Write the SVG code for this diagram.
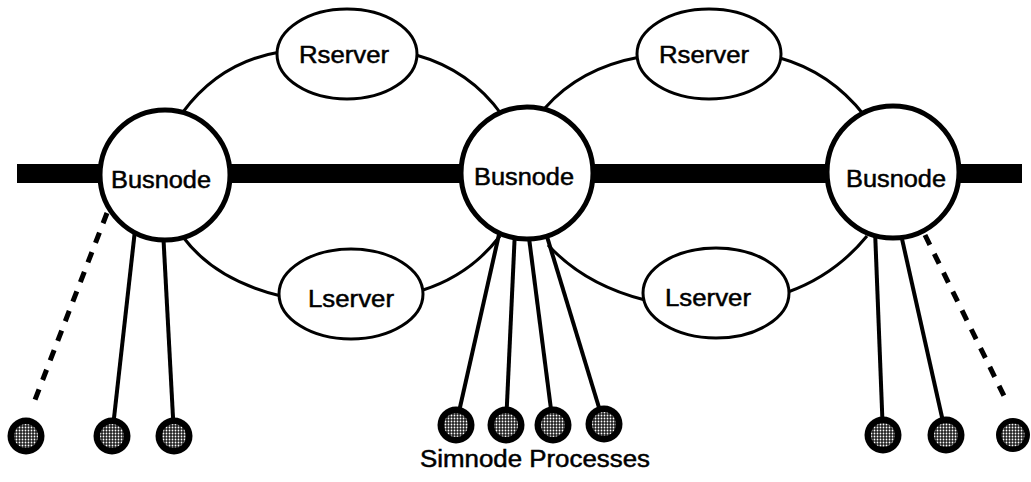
<svg xmlns="http://www.w3.org/2000/svg" width="1031" height="482" viewBox="0 0 1031 482">
<style>
.bus{fill:#fff;stroke:#000;stroke-width:5}
.srv{fill:#fff;stroke:#000;stroke-width:3}
.lbl{font-family:"Liberation Sans",Arial,sans-serif;font-size:23px;fill:#000;stroke:#000;stroke-width:0.5;text-anchor:middle}
.arc{fill:none;stroke:#000;stroke-width:3}
.sl{fill:none;stroke:#000;stroke-width:4}
.dl{fill:none;stroke:#000;stroke-width:5;stroke-dasharray:11 10}
.sim-o{fill:#000}
.sim-i{fill:url(#dots)}
</style>
<defs>
<pattern id="dots" patternUnits="userSpaceOnUse" width="3" height="3">
<rect width="3" height="3" fill="#222"/>
<circle cx="1.5" cy="1.5" r="0.9" fill="#fff"/>
</pattern>
</defs>
<rect id="bus-bar" x="17" y="164" width="1005" height="19" fill="#000"/>
<g id="connectors">
<path class="arc" d="M183,112 Q220,62 280,52"/>
<path class="arc" d="M416,55 Q470,70 502,115"/>
<path class="arc" d="M183,237 Q215,280 281,296"/>
<path class="arc" d="M423,290 Q470,275 500,236"/>
<path class="arc" d="M545,108 Q580,68 640,57"/>
<path class="arc" d="M780,58 Q830,72 864,115"/>
<path class="arc" d="M548,245 Q585,285 645,300"/>
<path class="arc" d="M788,292 Q835,275 867,236"/>
<path class="dl" d="M107,213 L33,405"/>
<path class="sl" d="M135,230 L112,436"/>
<path class="sl" d="M163,230 L174,436"/>
<path class="sl" d="M500,230 L456,425"/>
<path class="sl" d="M515,230 L506,425"/>
<path class="sl" d="M528,230 L553,425"/>
<path class="sl" d="M545,230 L604,424"/>
<path class="sl" d="M875,230 L883,435"/>
<path class="sl" d="M900,230 L946,435"/>
<path class="dl" d="M925,235 L1007,402"/>
</g>
<g id="busnode1"><circle class="bus" cx="165" cy="175" r="65"/><text class="lbl" x="161" y="188" textLength="100" lengthAdjust="spacingAndGlyphs">Busnode</text></g>
<g id="busnode2"><circle class="bus" cx="527" cy="173" r="66"/><text class="lbl" x="524" y="185" textLength="100" lengthAdjust="spacingAndGlyphs">Busnode</text></g>
<g id="busnode3"><circle class="bus" cx="893" cy="172" r="66"/><text class="lbl" x="896" y="187" textLength="100" lengthAdjust="spacingAndGlyphs">Busnode</text></g>
<g id="rserver1"><ellipse class="srv" cx="347" cy="54" rx="70" ry="45"/><text class="lbl" x="344" y="63" textLength="90" lengthAdjust="spacingAndGlyphs">Rserver</text></g>
<g id="rserver2"><ellipse class="srv" cx="709" cy="54" rx="72" ry="45"/><text class="lbl" x="704" y="63" textLength="90" lengthAdjust="spacingAndGlyphs">Rserver</text></g>
<g id="lserver1"><ellipse class="srv" cx="351" cy="294" rx="72" ry="45"/><text class="lbl" x="351" y="307" textLength="86" lengthAdjust="spacingAndGlyphs">Lserver</text></g>
<g id="lserver2"><ellipse class="srv" cx="716" cy="293" rx="73" ry="45"/><text class="lbl" x="708" y="306" textLength="86" lengthAdjust="spacingAndGlyphs">Lserver</text></g>
<g id="simnode1"><circle class="sim-o" cx="26" cy="436" r="18.5"/><circle class="sim-i" cx="26" cy="436" r="12"/></g>
<g id="simnode2"><circle class="sim-o" cx="112" cy="436" r="18.5"/><circle class="sim-i" cx="112" cy="436" r="12"/></g>
<g id="simnode3"><circle class="sim-o" cx="174" cy="436" r="18.5"/><circle class="sim-i" cx="174" cy="436" r="12"/></g>
<g id="simnode4"><circle class="sim-o" cx="456" cy="425" r="18.5"/><circle class="sim-i" cx="456" cy="425" r="12"/></g>
<g id="simnode5"><circle class="sim-o" cx="506" cy="425" r="18.5"/><circle class="sim-i" cx="506" cy="425" r="12"/></g>
<g id="simnode6"><circle class="sim-o" cx="553" cy="425" r="18.5"/><circle class="sim-i" cx="553" cy="425" r="12"/></g>
<g id="simnode7"><circle class="sim-o" cx="604" cy="424" r="18.5"/><circle class="sim-i" cx="604" cy="424" r="12"/></g>
<g id="simnode8"><circle class="sim-o" cx="883" cy="435" r="18.5"/><circle class="sim-i" cx="883" cy="435" r="12"/></g>
<g id="simnode9"><circle class="sim-o" cx="946" cy="435" r="18.5"/><circle class="sim-i" cx="946" cy="435" r="12"/></g>
<g id="simnode10"><circle class="sim-o" cx="1013" cy="435" r="17"/><circle class="sim-i" cx="1013" cy="435" r="11.5"/></g>
<text id="caption" class="lbl" x="535" y="467" textLength="230" lengthAdjust="spacingAndGlyphs">Simnode Processes</text>
</svg>
